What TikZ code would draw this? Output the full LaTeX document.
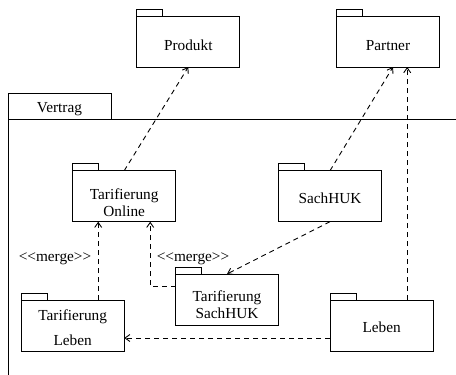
\documentclass[tikz,border=0pt]{standalone}
\usepackage{fontspec}
\setmainfont{Liberation Serif}[Ligatures=TeXOff]
\usetikzlibrary{arrows.meta}
\begin{document}
\begin{tikzpicture}[x=1pt,y=-1pt,
  pkg/.style={draw, line width=1pt, minimum width=103pt, minimum height=51pt, inner sep=0pt, outer sep=0pt},
  lbl/.style={anchor=base, inner sep=0pt, font=\fontsize{15.3}{18}\selectfont},
  dep/.style={line width=0.9pt, dash pattern=on 5pt off 4pt, -{Straight Barb[length=5pt,width=7pt]}},
  frameline/.style={line width=1pt}]
\useasboundingbox (0,0) rectangle (456,375);

% enclosing package "Vertrag"
\draw[frameline] (8,375) -- (8,93) -- (111,93) -- (111,119);
\draw[frameline] (8,119) -- (456,119);
\node[lbl] (vertragL) at (59.5,112) {Vertrag};

% packages
\node[pkg] (produkt) at (188.3,41.5) {};
\node[pkg] (partner) at (388,41.5) {};
\node[pkg] (tonline) at (124.2,196.2) {};
\node[pkg] (sachhuk) at (330,196.2) {};
\node[pkg] (tsach)   at (227,299.5) {};
\node[pkg] (tleben)  at (72.7,325.5) {};
\node[pkg] (leben)   at (381.7,325.5) {};

% package tabs
\foreach \p in {produkt,partner,tonline,sachhuk,tsach,tleben,leben}
  \draw[frameline] (\p.north west) -- ++(0,-7) -- ++(26,0) -- ++(0,7);

% package names
\node[lbl] (produktL) at (188.3,50) {Produkt};
\node[lbl] (partnerL) at (388,50) {Partner};
\node[lbl] (tonlineA) at (124.2,199) {Tarifierung};
\node[lbl] (tonlineB) at (124.2,216) {Online};
\node[lbl] (sachhukL) at (330,203) {SachHUK};
\node[lbl] (tsachA) at (227,301) {Tarifierung};
\node[lbl] (tsachB) at (227,318) {SachHUK};
\node[lbl] (tlebenA) at (72.7,320.5) {Tarifierung};
\node[lbl] (tlebenB) at (72.7,345) {Leben};
\node[lbl] (lebenL) at (381.7,332) {Leben};

% merge labels
\node[lbl] (merge1) at (55,261) {<\kern0pt<merge>\kern0pt>};
\node[lbl] (merge2) at (193,261) {<\kern0pt<merge>\kern0pt>};

% dependencies
\coordinate (lebenTop) at ([xshift=-26pt]leben.north east);
\coordinate (tlebenTop) at ([xshift=-26pt]tleben.north east);
\coordinate (tsachIn) at ([yshift=-12.7pt]tsach.north west);
\coordinate (tonlineR) at ([xshift=26pt]tonline.south);

\draw[dep] (tonline.north) -- (produkt.south);
\draw[dep] (sachhuk.north) -- ([xshift=5pt]partner.south);
\draw[dep] (lebenTop) -- (lebenTop |- partner.south);
\draw[dep] (sachhuk.south) -- (tsach.north);
\draw[dep] (tlebenTop) -- (tlebenTop |- tonline.south);
\draw[dep] (tsachIn) -| (tonlineR);
\draw[dep] ([yshift=13pt]leben.south west) -- ([yshift=13pt]tleben.south east);
\end{tikzpicture}
\end{document}
